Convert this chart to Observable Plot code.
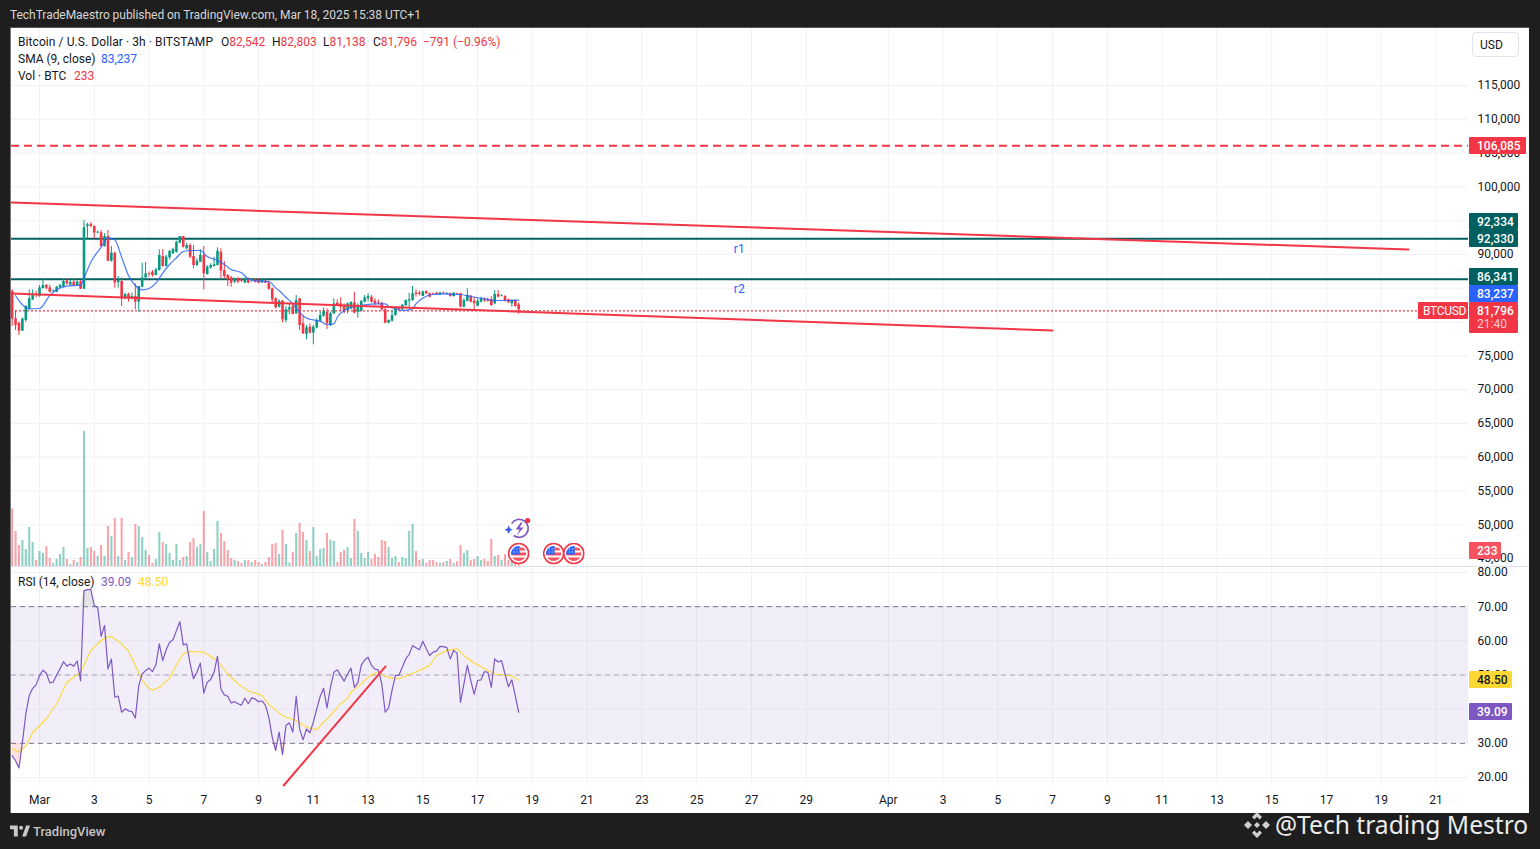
<!DOCTYPE html>
<html><head><meta charset="utf-8">
<script src="https://cdn.jsdelivr.net/npm/d3@7"></script>
<script src="https://cdn.jsdelivr.net/npm/@observablehq/plot@0.6"></script>
<style>
html,body{margin:0;padding:0;background:#1e1e1e;overflow:hidden}
#page{position:relative;width:1540px;height:849px;background:#1e1e1e;font-family:Roboto,sans-serif;overflow:hidden}
#panel{position:absolute;left:10px;top:27px;width:1519px;height:786px;background:#fff;box-sizing:border-box;border-left:1px solid #777;border-top:1px solid #555}
.abs{position:absolute}
.abs svg{display:block}
.t{position:absolute;white-space:pre;font-size:12px;line-height:17px;color:#131722}
.tag{position:absolute;color:#fff;font-size:12px;line-height:19px;height:17px;box-sizing:border-box;padding-left:8px;border-radius:1px;font-weight:500;overflow:hidden}
.r{color:#f23645}.b{color:#2962ff}
</style></head><body><div id="page"><div id="panel"></div></div>
<script>
// ---- candle data (3h bars from Feb 28) ----
const opens=[84560,80470,79830,78640,80220,81950,83280,84070,83770,84960,
85400,85050,84560,84410,85050,85150,86040,85450,85890,85400,
85940,84860,94130,94430,94130,93150,93200,91170,92650,89000,
90190,85800,85990,83430,84070,83530,83770,82930,85150,86530,
87130,87380,86880,87620,89690,88210,89500,90090,90330,91670,
92650,90830,91320,89690,88360,88850,89840,87030,87970,88210,
88360,90330,87620,86880,86530,85890,86390,86240,85750,86390,
86140,86240,86140,85800,86040,85750,84910,83430,82190,
83080,80220,81800,82290,81210,83430,79730,78150,79230,78350,
79130,80120,80860,81450,79480,81210,82790,82690,82290,81700,
81950,82830,81450,81600,82930,83430,83670,83080,82930,82790,
81800,79830,80120,80960,82050,81800,82440,83080,83180,84270,
84270,83770,84510,84170,84170,84270,83970,84310,84120,84170,
83770,84170,84170,82190,83080,83820,83080,82340,82930,83280,
83330,83280,82690,84070,83820,83770,83280,82690,83180,82542];
const highs=[84760,81700,79980,80610,82440,84760,84760,84560,85400,86390,
85550,85450,84760,85250,85550,86290,86290,86140,86390,86040,
86140,95020,94630,94720,94230,93440,93540,93050,93540,91170,
90330,86730,86530,84270,84270,84270,85650,85250,88710,88800,
87380,87620,87920,90680,90680,89840,90580,90930,91960,92650,
92650,91670,91570,91320,89350,90680,91170,88360,88610,89590,
90970,90830,88950,87030,86730,86490,86630,86390,86530,86530,
86390,86440,86340,86340,86240,86040,85050,83580,83280,
83180,82290,82690,82790,83920,83530,80960,79480,79730,79480,
80470,81450,82050,81950,81450,83430,83280,83570,82690,82830,
82930,84410,82690,83180,83920,84170,83920,83430,83280,82930,
82090,80320,81700,82090,82190,82590,83280,84270,85250,84760,
84560,84560,84610,84270,84270,84360,84360,84410,84360,84270,
84360,84270,84270,83430,84910,83920,83670,83430,83670,83570,
83570,83770,84660,84660,84020,83920,83430,83280,83280,82803];
const lows=[79330,78740,78000,78640,79980,81800,83180,83580,83670,84860,
84760,84270,84360,84310,84960,85050,85400,85350,85300,85300,
84810,84810,92260,93940,92310,93050,91070,91070,88950,88850,
85010,85010,82290,83280,82930,83280,81800,81450,85050,86440,
86630,86630,86830,87520,88110,88110,89200,89990,90190,91570,
90930,90680,89350,87870,88210,88800,84760,86930,87820,88110,
88310,86390,86390,85250,85150,85650,85650,85850,85650,85650,
85850,85750,85650,85650,85650,84660,82790,81950,82090,
79870,79870,81060,81060,81110,78740,78150,77360,78250,76620,
78990,79970,80710,78890,79330,81110,82290,81600,81210,81210,
81800,81210,80570,81450,82830,82930,82790,82440,82540,81600,
79730,79730,79970,80860,81600,81700,82290,82190,83080,83670,
83870,83770,84070,83570,83970,83970,83920,84070,84020,83670,
83670,83920,82090,82090,82980,82830,81800,82240,82830,82930,
82930,82290,82590,83570,83720,82930,82790,82190,82190,81138];
const closes=[80420,79480,78640,80420,82290,83430,84070,83970,85050,85400,
85010,84410,84660,85150,85400,85990,85650,85850,85400,85940,
84860,93940,94380,94130,93150,93290,91170,92650,89000,90190,
85750,86140,83430,84070,83530,83770,82930,85250,86530,87130,
87030,86880,87720,89840,88210,89590,90430,90730,91810,92650,
91070,91320,89590,88360,89000,89840,87130,88110,88360,88460,
90480,87520,86730,86240,85750,86290,85890,86040,86290,85750,
86290,85890,85750,86140,85750,84860,83280,82090,83080,
80320,81800,82090,81110,83180,79480,78250,79130,78350,79230,
80220,80960,81600,79730,81210,82690,82440,82190,81450,82690,
82930,81310,82190,83030,83570,83770,82930,82690,82790,81800,
79830,80220,80960,82050,81800,82440,83180,83280,84170,84070,
84070,84460,84170,83670,84070,84070,84310,84170,84220,83770,
84270,84070,82190,83180,83920,82930,82690,83080,83430,83080,
83080,82440,84070,83670,83920,83080,82830,83180,82290,81796];
const volumes=[894,543,326,403,264,605,372,93,233,202,310,124,47,109,186,295,109,31,93,62,
140,2094,279,295,233,155,326,155,620,465,744,155,744,93,217,140,651,620,450,248,
171,47,109,527,372,341,202,93,341,93,140,155,372,434,295,341,853,217,78,264,
698,512,388,248,124,93,78,47,93,93,62,93,62,31,62,140,341,357,186,
558,341,52,222,512,667,527,403,233,605,155,264,279,512,403,388,62,217,248,295,
124,729,543,202,124,217,109,186,140,403,388,295,124,155,62,140,124,543,651,233,
93,109,47,93,93,62,47,62,78,109,47,78,326,202,248,93,109,155,93,109,
78,419,155,171,93,186,93,78,47,233];
// SMA(9) sampled at bar numbers
const smaBars=[1,2,5,8,11,13,16,20,21,23,26,28,30,32,34,36,38,40,42,44,46,48,50,52,55,57,60,62,64,67,69,71,75,77,78,80,82,84,86,88,90,92,94,95,97,100,103,106,109,110,112,114,117,118,120,123,126,131,134,137,141,145,148];
const smaValues=[83920,83180,81950,82000,83920,84760,85300,85450,86530,88850,91070,92450,92160,89590,86880,85400,84760,84960,85750,87230,88510,89500,90430,90580,90580,89690,89100,88510,87770,87280,86390,86090,85990,85050,84660,83670,82690,81450,80570,80320,80120,79630,79730,80710,81700,82290,82540,82690,82690,82340,81950,81700,81950,82690,83570,84070,84170,84070,83770,83530,83180,83180,83237];
// RSI(14)
const rsiValues=[26.4,24.9,22.8,30.3,38.6,44.0,46.1,47.1,49.8,51.4,50.5,47.7,47.9,50.0,51.8,53.9,52.6,53.2,52.6,54.1,
48.3,74.7,75.0,75.0,70.3,69.8,61.3,64.5,51.8,54.7,43.5,43.8,39.1,40.1,39.5,39.3,37.4,46.9,50.3,51.3,
52.0,51.0,53.0,59.1,54.2,57.4,59.6,60.3,63.0,65.6,58.8,59.1,53.3,48.9,50.8,53.5,44.7,47.9,48.7,50.8,
55.5,45.9,44.2,43.8,41.8,42.2,41.6,41.2,43.2,41.6,43.3,43.0,42.2,42.4,41.2,37.6,31.8,27.9,33.3,26.7,
35.2,36.0,33.3,43.8,34.2,31.0,34.2,33.1,36.2,40.1,43.7,46.1,40.4,46.4,50.8,51.5,49.9,48.2,50.3,52.0,
46.4,47.7,52.8,54.4,55.2,52.8,51.7,51.5,47.4,39.1,40.4,45.5,49.9,49.9,52.3,54.7,56.0,58.6,58.0,57.4,
59.9,57.7,55.7,56.7,57.0,58.4,58.3,58.0,54.7,57.2,56.4,42.0,47.4,52.8,48.4,44.3,48.4,48.6,51.0,50.8,
46.4,54.7,53.8,54.2,50.3,46.6,48.6,44.0,39.09];
const rsiMaBars=[0,2,4,6,10,13,16,20,23,26,28,29,32,34,36,38,40,41,43,46,48,50,52,56,58,60,63,66,69,73,75,79,83,86,89,91,93,96,98,99,102,104,107,109,112,113,116,119,122,124,127,130,132,135,139,141,144,146,148];
const rsiMaValues=[28.4,27.4,29.3,33.1,37.2,41.5,47.9,50.8,57.2,60.1,61.2,61.2,59.1,57.0,52.8,48.4,46.1,45.6,46.4,49.1,53.0,56.2,56.9,56.7,55.4,54.2,50.3,47.4,45.3,44.0,41.4,38.1,36.7,34.7,34.0,36.2,38.1,41.6,43.0,45.0,47.4,49.4,51.1,49.6,48.9,48.9,50.1,51.3,52.8,55.7,57.2,57.7,55.7,53.5,51.3,50.3,50.0,49.7,48.5];
// axes
const tickDates=["2025-03-01","2025-03-03","2025-03-05","2025-03-07","2025-03-09","2025-03-11","2025-03-13","2025-03-15","2025-03-17","2025-03-19","2025-03-21","2025-03-23","2025-03-25","2025-03-27","2025-03-29","2025-04-01","2025-04-03","2025-04-05","2025-04-07","2025-04-09","2025-04-11","2025-04-13","2025-04-15","2025-04-17","2025-04-19","2025-04-21"];
const tickLabels=["Mar","3","5","7","9","11","13","15","17","19","21","23","25","27","29","Apr","3","5","7","9","11","13","15","17","19","21"];
const priceTicks=[45000,50000,55000,60000,65000,70000,75000,80000,85000,90000,95000,100000,105000,110000,115000];
const rsiTicks=[20,30,40,50,60,70,80];
// levels & drawings
const lastPrice=81796, lastSma=83237, lastVolume=233, lastRsi=39.09, lastRsiMa=48.50;
const resistanceLevel=106085;
const supportLevels=[92330,86341];
const upperTrend=[["2025-02-27T23:30Z",97684],["2025-04-20T00:00Z",90728]];
const lowerTrend=[["2025-02-27T23:30Z",84216],["2025-04-07T00:00Z",78740]];
const rsiTrend=[["2025-03-09T22:00Z",17.66],["2025-03-13T15:20Z",52.5]];
const drawingLabels=[["r1","2025-03-26T13:20Z",90728],["r2","2025-03-26T13:20Z",84808]];
const eventFlags=["2025-03-18T12:00Z","2025-03-19T18:40Z","2025-03-20T12:20Z"];
const eventBolt=["2025-03-18T12:00Z"];

// ---- style ----
const GREEN="#089981",RED="#f23645",BLUE="#2962ff",PURPLE="#7e57c2",YELLOW="#fdd835",TEAL="#00605f",GRID="#f0f1f5";
const FONT='Roboto,sans-serif';
const xDomain=[new Date("2025-02-27T23:27Z"),new Date("2025-04-22T04:33Z")];
const W=1518,L=11,MR=61;
const base={width:W,marginLeft:0,marginRight:MR,marginTop:0,
  style:{fontFamily:FONT,fontSize:"12px",color:"#131722",background:"transparent",overflow:"visible"}};
const barDate=i=>new Date(Date.UTC(2025,1,28)+i*3*3600e3);
const pair=a=>a.map(([d,v])=>({date:new Date(d),v}));
const bars=opens.map((o,i)=>({date:barDate(i),o,h:highs[i],l:lows[i],c:closes[i],vol:volumes[i],rsi:rsiValues[i],up:closes[i]>=o}));
const up=bars.filter(d=>d.up),down=bars.filter(d=>!d.up);
const sma=smaBars.map((b,i)=>({date:barDate(b),v:smaValues[i]}));
const rsiMa=rsiMaBars.map((b,i)=>({date:barDate(b),v:rsiMaValues[i]}));
const xTicks=tickDates.map(d=>new Date(d+"T00:00Z"));

const page=document.getElementById("page");
function place(svg,left,top){const d=document.createElement("div");d.className="abs";d.style.left=left+"px";d.style.top=top+"px";d.appendChild(svg);page.appendChild(d);}

// ---- price panel ----
const priceTop=28,priceH=539;
const price=Plot.plot({...base,height:priceH,marginBottom:0,
  x:{type:"utc",domain:xDomain,axis:null},
  y:{domain:[43668,123436],axis:null},
  marks:[
    Plot.gridX(xTicks,{stroke:GRID,strokeOpacity:1}),
    Plot.gridY(priceTicks,{stroke:GRID,strokeOpacity:1}),
    Plot.axisY(priceTicks,{anchor:"right",tickSize:0,tickPadding:9,tickFormat:d=>d3.format(",")(d),label:null,textAnchor:"start"}),
    Plot.ruleY([resistanceLevel],{stroke:RED,strokeWidth:2,strokeDasharray:"8 5"}),
    Plot.ruleY(supportLevels,{stroke:TEAL,strokeWidth:2}),
    Plot.ruleY([lastPrice],{stroke:RED,strokeWidth:1.2,strokeDasharray:"2 2",dy:1}),
    Plot.ruleX(up,{x:"date",y1:"l",y2:"h",stroke:GREEN,strokeWidth:1}),
    Plot.ruleX(down,{x:"date",y1:"l",y2:"h",stroke:RED,strokeWidth:1}),
    Plot.ruleX(up,{x:"date",y1:"o",y2:"c",stroke:GREEN,strokeWidth:2.6}),
    Plot.ruleX(down,{x:"date",y1:"o",y2:"c",stroke:RED,strokeWidth:2.6}),
    Plot.line(sma,{x:"date",y:"v",stroke:BLUE,strokeWidth:1.2,curve:"monotone-x",strokeOpacity:.85}),
    Plot.line(pair(upperTrend),{x:"date",y:"v",stroke:RED,strokeWidth:2}),
    Plot.line(pair(lowerTrend),{x:"date",y:"v",stroke:RED,strokeWidth:2}),
    Plot.text(drawingLabels,{x:d=>new Date(d[1]),y:d=>d[2],text:d=>d[0],fill:BLUE,fontSize:12})
  ]});
place(price,L,priceTop);

// ---- volume overlay + event icons ----
const flagSvg=`<svg xmlns="http://www.w3.org/2000/svg" viewBox="0 0 22 22"><circle cx="11" cy="11" r="10" fill="#fff" stroke="#f23645" stroke-width="1.6"/><clipPath id="c"><circle cx="11" cy="11" r="7.6"/></clipPath><g clip-path="url(#c)"><rect x="3" y="3" width="16" height="16" fill="#fff"/><rect x="3" y="10" width="16" height="3" fill="#f7525f"/><rect x="3" y="15" width="16" height="4" fill="#f7525f"/><rect x="3" y="3" width="9" height="9" fill="#2962ff"/><g fill="#fff"><rect x="6" y="6" width="1" height="1"/><rect x="9" y="6" width="1" height="1"/><rect x="6" y="9" width="1" height="1"/><rect x="9" y="9" width="1" height="1"/></g><rect x="12" y="5" width="7" height="3" fill="#f7525f"/></g></svg>`;
const boltSvg=`<svg xmlns="http://www.w3.org/2000/svg" viewBox="0 0 28 24"><path d="M7 7A9 9 0 1 1 9 19" fill="none" stroke="#7e57c2" stroke-width="1.6"/><path d="M16 6L11 13h4l-3 6 7-8h-4l3-5z" fill="#7e57c2"/><path d="M4 9l1.4 3L8 13.2 5.4 14.6 4 17.5 2.6 14.6 0 13.2 2.6 12z" fill="#3c5ff0"/><circle cx="23" cy="4" r="2.6" fill="#f23645"/></svg>`;
const uri=s=>"data:image/svg+xml;charset=utf-8,"+encodeURIComponent(s);
const volPx=538;
const volume=Plot.plot({...base,height:priceH,marginBottom:0,
  x:{type:"utc",domain:xDomain,axis:null},
  y:{domain:[0,volPx*15.5],range:[volPx,0],axis:null},
  marks:[
    Plot.ruleX(up,{x:"date",y1:0,y2:"vol",stroke:GREEN,strokeOpacity:.45,strokeWidth:2.1}),
    Plot.ruleX(down,{x:"date",y1:0,y2:"vol",stroke:RED,strokeOpacity:.45,strokeWidth:2.1}),
    Plot.image(eventFlags.map(d=>({date:new Date(d)})),{x:"date",frameAnchor:"bottom",dy:-14,width:22,height:22,src:()=>uri(flagSvg)}),
    Plot.image(eventBolt.map(d=>({date:new Date(d)})),{x:"date",frameAnchor:"bottom",dy:-39,width:28,height:24,src:()=>uri(boltSvg)})
  ]});
place(volume,L,priceTop);

// ---- RSI panel ----
const rsiTop=568,rsiPlotH=218,rsiBottom=27;
const rsiPlot=Plot.plot({...base,height:rsiPlotH+rsiBottom,marginBottom:rsiBottom,
  x:{type:"utc",domain:xDomain,axis:null},
  y:{domain:[17.37,81.17],axis:null},
  marks:[
    Plot.gridX(xTicks,{stroke:GRID,strokeOpacity:1}),
    Plot.gridY(rsiTicks,{stroke:GRID,strokeOpacity:1}),
    Plot.rectY([{a:30,b:70}],{y1:"a",y2:"b",fill:PURPLE,fillOpacity:.1}),
    Plot.axisY(rsiTicks,{anchor:"right",tickSize:0,tickPadding:9,tickFormat:d=>d3.format(".2f")(d),label:null,textAnchor:"start"}),
    Plot.axisX(xTicks,{anchor:"bottom",tickSize:0,tickPadding:9,label:null,tickFormat:d=>tickLabels[xTicks.findIndex(t=>+t===+d)]}),
    Plot.ruleY([70,30],{stroke:"#787b86",strokeDasharray:"5 4"}),
    Plot.ruleY([50],{stroke:"#787b86",strokeOpacity:.6,strokeDasharray:"5 4"}),
    Plot.areaY(bars,{x:"date",y1:()=>70,y2:d=>Math.max(d.rsi,70),fill:"#999",fillOpacity:.25}),
    Plot.areaY(bars,{x:"date",y1:()=>30,y2:d=>Math.min(d.rsi,30),fill:RED,fillOpacity:.15}),
    Plot.line(rsiMa,{x:"date",y:"v",stroke:YELLOW,strokeWidth:1.1}),
    Plot.line(bars,{x:"date",y:"rsi",stroke:PURPLE,strokeWidth:1.2}),
    Plot.line(pair(rsiTrend),{x:"date",y:"v",stroke:RED,strokeWidth:2})
  ]});
place(rsiPlot,L,rsiTop);

// ---- separator, text, tags ----
function div(css,cls,html){const d=document.createElement("div");if(cls)d.className=cls;d.style.cssText=css;if(html!=null)d.innerHTML=html;page.appendChild(d);return d;}
div("position:absolute;left:11px;top:566px;width:1518px;height:1px;background:#e0e3eb");

const fmt=d3.format(",");
const yP=v=>priceTop+price.scale("y").apply(v);
const yV=v=>priceTop+volume.scale("y").apply(v);
const yR=v=>rsiTop+rsiPlot.scale("y").apply(v);
function tag(text,y,left,width,bg,color,extra){div(`left:${left}px;top:${Math.round(y-8.5)}px;width:${width}px;background:${bg};color:${color||"#fff"};${extra||""}`,"tag",text);}
tag(fmt(92334),yP(supportLevels[0])-16.5,1469,49,TEAL);
tag(fmt(supportLevels[0]),yP(supportLevels[0]),1469,49,TEAL);
tag(fmt(supportLevels[1]),yP(supportLevels[1])-2,1469,49,TEAL);
tag(fmt(lastSma),yP(lastSma)-6.5,1469,49,BLUE);
tag(fmt(lastPrice),yP(lastPrice)+1,1469,49,RED);
tag("21:40",yP(lastPrice)+18,1469,49,RED,"rgba(255,255,255,.75)","height:14px;line-height:11px;font-weight:400;");
tag("BTCUSD",yP(lastPrice)+1,1418,50,RED,null,"padding-left:5px;letter-spacing:-.3px;font-weight:400;");
tag(fmt(resistanceLevel),yP(resistanceLevel),1469,57,RED);
tag(String(lastVolume),yV(lastVolume),1469,32,"#f7525f");
tag(lastRsiMa.toFixed(2),yR(lastRsiMa),1469,43,YELLOW,"#131722");
tag(lastRsi.toFixed(2),yR(lastRsi),1469,43,PURPLE);

function txt(x,y,html,css){div(`left:${x}px;top:${y-8}px;${css||""}`,"t",html);}
txt(10,15,"TechTradeMaestro published on TradingView.com, Mar 18, 2025 15:38 UTC+1","color:#d6d6d6;letter-spacing:-.04px;");
txt(18,42,`Bitcoin / U.S. Dollar · 3h · BITSTAMP`,"letter-spacing:.08px;");
txt(221,42,`O<span class="r">82,542</span>`);
txt(272,42,`H<span class="r">82,803</span>`);
txt(323,42,`L<span class="r">81,138</span>`);
txt(373,42,`C<span class="r">81,796</span>`);
txt(423,42,`<span class="r">−791 (−0.96%)</span>`);
txt(18,59,`SMA (9, close)`);
txt(101,59,`<span class="b">83,237</span>`);
txt(18,76,`Vol · BTC`);
txt(74,76,`<span class="r">233</span>`);
txt(18,582,`RSI (14, close)`);
txt(101,582,`<span style="color:${PURPLE}">39.09</span>`);
txt(138,582,`<span style="color:#fdd835">48.50</span>`);
// USD button
div("position:absolute;left:1472px;top:32px;width:47px;height:25px;border:1px solid #e0e3eb;border-radius:4px;box-sizing:border-box;background:#fff");
txt(1480,44.5,"USD");
// footer logo
div("position:absolute;left:10px;top:825px;width:20px;height:12px",null,`<svg width="20" height="12" viewBox="0 0 36 20" style="display:block"><path d="M0 0h14v20H7V7H0z" fill="#c9c9c9"/><circle cx="20" cy="4" r="3.6" fill="#c9c9c9"/><path d="M22 20l7-20h7l-7 20z" fill="#c9c9c9"/></svg>`);
div("position:absolute;left:33px;top:823px;font-size:13px;line-height:18px;font-weight:500;color:#c4c4c4;white-space:pre",null,"TradingView");
// watermark
div("position:absolute;left:1243px;top:811px;width:28px;height:28px",null,`<svg width="28" height="28" viewBox="0 0 28 28" style="display:block"><g fill="#cfcfcf"><path d="M14 1l5 5-2.4 2.4L14 5.8l-2.6 2.6L9 6z"/><path d="M14 27l-5-5 2.4-2.4 2.6 2.6 2.6-2.6L19 22z"/><path d="M5 10l4 4-4 4-4-4z"/><path d="M23 10l4 4-4 4-4-4z"/><path d="M14 11l3 3-3 3-3-3z"/></g></svg>`);
div("position:absolute;left:1275px;top:807px;font-family:'Noto Sans',sans-serif;font-size:24.6px;line-height:36px;color:#ececec;white-space:pre",null,"@Tech trading Mestro");
</script></body></html>
